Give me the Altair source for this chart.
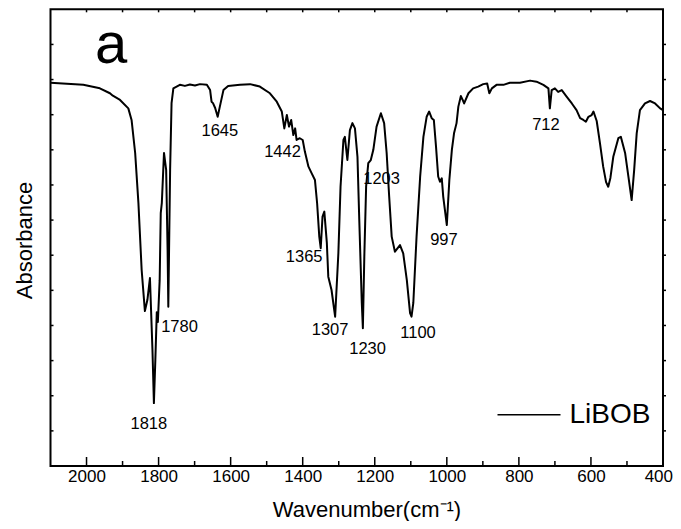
import altair as alt
import pandas as pd

FONT = "Liberation Sans, Arial, sans-serif"

# ---- spectrum ----
wavenumber = [2100, 2009, 1963, 1935, 1927, 1907, 1884, 1875, 1865, 1856, 1847, 1838, 1831, 1824,
              1817, 1813, 1809, 1805, 1802, 1797, 1794, 1791, 1785, 1779, 1775, 1773, 1768, 1764,
              1759, 1750, 1741, 1727, 1713, 1699, 1685, 1666, 1657, 1653, 1649, 1643, 1636, 1630,
              1620, 1607, 1574, 1546, 1519, 1491, 1472, 1458, 1451, 1444, 1438, 1432, 1426, 1421,
              1417, 1408, 1400, 1394, 1384, 1375, 1366, 1360, 1354, 1350, 1345, 1340, 1333, 1329,
              1320, 1310, 1301, 1295, 1287, 1283, 1276, 1269, 1262, 1255, 1248, 1243, 1236, 1233,
              1229, 1224, 1218, 1211, 1204, 1195, 1183, 1174, 1167, 1160, 1153, 1144, 1130, 1121,
              1111, 1102, 1098, 1093, 1084, 1074, 1065, 1056, 1049, 1042, 1036, 1030, 1024, 1019,
              1014, 1010, 1000, 993, 986, 980, 973, 968, 961, 956, 952, 940, 927, 913, 899, 888,
              882, 875, 862, 843, 825, 797, 769, 751, 732, 718, 714, 709, 700, 691, 681, 667, 653,
              640, 630, 621, 614, 607, 598, 593, 584, 575, 566, 558, 552, 546, 538, 524, 517, 505,
              496, 487, 480, 473, 464, 450, 436, 422, 408, 400]
absorbance = [10.91, 10.85, 10.75, 10.61, 10.54, 10.42, 10.18, 9.85, 8.91, 7.49, 5.58, 4.41, 4.73, 5.35,
              3.30, 1.79, 3.02, 4.38, 4.10, 5.29, 7.20, 7.49, 8.91, 8.43, 6.15, 4.53, 8.43, 10.33,
              10.75, 10.80, 10.85, 10.82, 10.86, 10.83, 10.87, 10.85, 10.70, 10.37, 10.33, 10.19, 9.94, 10.23,
              10.70, 10.82, 10.85, 10.87, 10.80, 10.61, 10.37, 10.09, 9.61, 9.99, 9.66, 9.85, 9.42, 9.61,
              9.28, 9.33, 9.28, 8.95, 8.52, 8.33, 8.14, 7.48, 6.53, 6.20, 7.10, 7.24, 6.35, 5.39,
              5.01, 4.25, 6.06, 7.95, 9.28, 9.37, 8.71, 9.56, 9.76, 9.61, 8.80, 7.00, 4.64, 3.92,
              5.96, 7.95, 8.62, 8.71, 9.00, 9.66, 10.04, 9.76, 8.91, 7.67, 6.53, 6.10, 6.29, 6.05,
              5.29, 4.35, 4.25, 4.64, 6.53, 8.24, 9.37, 9.94, 10.09, 9.90, 9.85, 9.09, 8.24, 8.09,
              8.19, 7.67, 6.86, 8.14, 9.00, 9.47, 9.76, 10.23, 10.53, 10.42, 10.32, 10.61, 10.75, 10.80, 10.87, 10.89,
              10.61, 10.75, 10.85, 10.85, 10.91, 10.91, 10.97, 10.94, 10.85, 10.75, 10.18, 10.70, 10.75, 10.65, 10.70, 10.51, 10.32,
              10.13, 9.90, 9.85, 9.80, 9.94, 9.99, 10.09, 9.82, 9.19, 8.52, 8.08, 7.95, 8.20, 8.80, 9.33, 9.37, 8.90,
              8.24, 7.57, 8.43, 9.47, 10.13, 10.32, 10.39, 10.32, 10.18, 10.13]

# ---- peak annotations ----
peak_labels = ["1818", "1780", "1645", "1442", "1365", "1307", "1230", "1203", "1100", "997", "712"]
peak_label_x = [1827, 1742, 1630, 1456, 1396, 1324, 1220, 1181, 1080, 1008, 725]
peak_label_y = [1.20, 3.96, 9.54, 8.94, 5.94, 3.87, 3.33, 8.17, 3.80, 6.43, 9.71]

panel_label = ["a"]
panel_label_x = [1932]
panel_label_y = [11.47]

# ---- ticks ----
x_major_ticks = [2000, 1800, 1600, 1400, 1200, 1000, 800, 600, 400]
x_minor_ticks = [1900, 1700, 1500, 1300, 1100, 900, 700, 500]
x_top_ticks = [2000, 1900, 1800, 1700, 1600, 1500, 1400, 1300, 1200, 1100, 1000, 900, 800, 700, 600, 500]
y_ticks = [1, 2, 3, 4, 5, 6, 7, 8, 9, 10, 11, 12]

W = 612.5
H = 456.7

xscale = alt.Scale(domain=[400, 2100], reverse=True, nice=False, zero=False)
yscale = alt.Scale(domain=[0, 13], nice=False, zero=False)

spec = pd.DataFrame({"w": wavenumber, "a": absorbance, "series": "LiBOB"})

line = alt.Chart(spec).mark_line(strokeWidth=2, strokeJoin="round").encode(
    x=alt.X("w:Q", scale=xscale,
            axis=alt.Axis(values=x_major_ticks, ticks=False, domain=False, grid=False,
                          format="d", labelFontSize=17, labelFont=FONT, labelColor="black",
                          labelPadding=2, labelFlush=1, labelFlushOffset=9.5, labelOverlap=False,
                          title="Wavenumber(cm⁻¹)", titleFontSize=22, titleFont=FONT,
                          titleFontWeight="normal", titleColor="black",
                          titleX=316, titleY=50.5, titleBaseline="alphabetic", titleAlign="center")),
    y=alt.Y("a:Q", scale=yscale,
            axis=alt.Axis(labels=False, ticks=False, domain=False, grid=False,
                          title="Absorbance", titleFontSize=22, titleFont=FONT,
                          titleFontWeight="normal", titleColor="black",
                          titleX=-19.5, titleY=230.7, titleAngle=270,
                          titleBaseline="alphabetic", titleAlign="center")),
    color=alt.Color("series:N", scale=alt.Scale(domain=["LiBOB"], range=["black"]),
                    legend=alt.Legend(orient="none", legendX=446, legendY=373, title=None,
                                      symbolType="stroke", symbolSize=3969, symbolStrokeWidth=1.5,
                                      symbolStrokeColor="black", labelFontSize=28, labelFont=FONT,
                                      labelColor="black", labelOffset=8, padding=0)),
)

def tick_layer(vals, **enc):
    return alt.Chart(pd.DataFrame({"w": vals})).mark_rule(color="black", strokeWidth=1.5).encode(
        x=alt.X("w:Q", scale=xscale), **enc)

def ytick_layer(vals, **enc):
    return alt.Chart(pd.DataFrame({"a": vals})).mark_rule(color="black", strokeWidth=1.5).encode(
        y=alt.Y("a:Q", scale=yscale), **enc)

bottom_major = tick_layer(x_major_ticks, y=alt.value(H), y2=alt.value(H - 9))
bottom_minor = tick_layer(x_minor_ticks, y=alt.value(H), y2=alt.value(H - 5))
top_ticks = tick_layer(x_top_ticks, y=alt.value(0), y2=alt.value(3))
left_ticks = ytick_layer(y_ticks, x=alt.value(0), x2=alt.value(3))
right_ticks = ytick_layer(y_ticks, x=alt.value(W), x2=alt.value(W + 3))

peaks = alt.Chart(pd.DataFrame({"w": peak_label_x, "a": peak_label_y, "label": peak_labels})).mark_text(
    fontSize=16.5, font=FONT, color="black", align="center", baseline="middle").encode(
    x=alt.X("w:Q", scale=xscale), y=alt.Y("a:Q", scale=yscale), text="label:N")

panel = alt.Chart(pd.DataFrame({"w": panel_label_x, "a": panel_label_y, "label": panel_label})).mark_text(
    fontSize=58, font=FONT, color="black", align="center", baseline="alphabetic").encode(
    x=alt.X("w:Q", scale=xscale), y=alt.Y("a:Q", scale=yscale), text="label:N")

chart = alt.layer(line, bottom_major, bottom_minor, top_ticks, left_ticks, right_ticks, peaks, panel).properties(
    width=W, height=H,
    autosize=alt.AutoSizeParams(type="none"),
    padding={"left": 42.5, "top": 1.3, "right": 10, "bottom": 55},
    background="white",
).configure_view(stroke="black", strokeWidth=2)

chart.save("out.html", embed_options={"renderer": "svg", "actions": False})
